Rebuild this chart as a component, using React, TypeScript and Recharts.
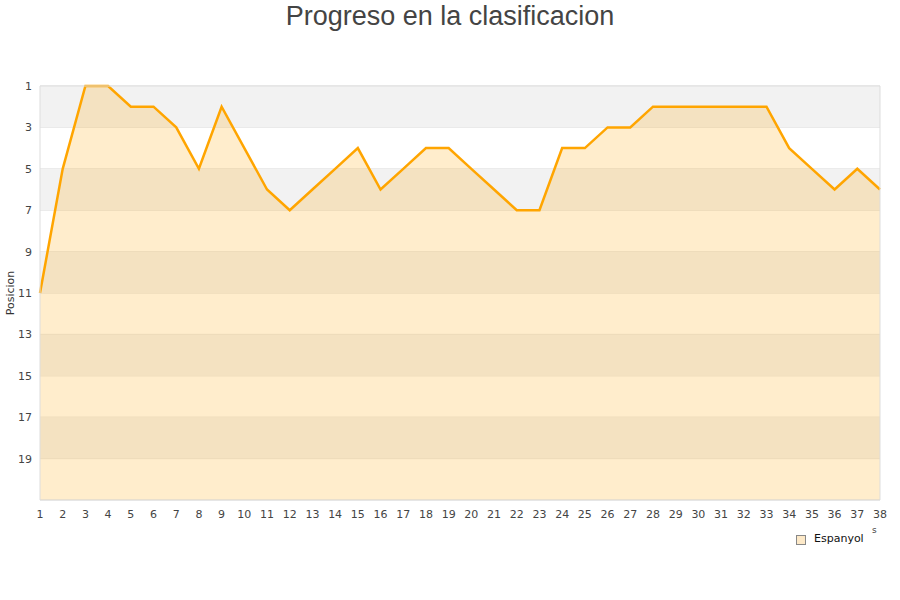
import React from "react";
import {
  ComposedChart,
  Area,
  XAxis,
  YAxis,
  CartesianGrid,
  ReferenceArea,
} from "recharts";

const rounds = [
  1, 2, 3, 4, 5, 6, 7, 8, 9, 10, 11, 12, 13, 14, 15, 16, 17, 18, 19, 20, 21,
  22, 23, 24, 25, 26, 27, 28, 29, 30, 31, 32, 33, 34, 35, 36, 37, 38,
];
const espanyol = [
  11, 5, 1, 1, 2, 2, 3, 5, 2, 4, 6, 7, 6, 5, 4, 6, 5, 4, 4, 5, 6, 7, 7, 4, 4,
  3, 3, 2, 2, 2, 2, 2, 2, 4, 5, 6, 5, 6,
];
const yTicks = [1, 3, 5, 7, 9, 11, 13, 15, 17, 19];
const bands: [number, number][] = [
  [1, 3],
  [5, 7],
  [9, 11],
  [13, 15],
  [17, 19],
];

const data = rounds.map((r, i) => ({ round: r, pos: espanyol[i] }));

const tickStyle = { fontFamily: "DejaVu Sans", fontSize: 11, fill: "#444" };

export default function App() {
  return (
    <div
      style={{
        position: "absolute",
        left: 0,
        top: 0,
        width: 900,
        height: 600,
        background: "#fff",
        fontFamily: "DejaVu Sans",
      }}
    >
      <div
        style={{
          position: "absolute",
          left: 0,
          top: 0,
          width: 900,
          textAlign: "center",
          fontFamily: "Liberation Sans",
          fontSize: 27,
          color: "#444",
          lineHeight: "32px",
        }}
      >
        Progreso en la clasificacion
      </div>
      <ComposedChart
        width={900}
        height={600}
        data={data}
        margin={{ top: 86, right: 20, bottom: 70, left: 0 }}
      >
        {bands.map(([a, b]) => (
          <ReferenceArea
            key={a}
            y1={a}
            y2={b}
            x1={1}
            x2={38}
            fill="#f2f2f2"
            fillOpacity={1}
            stroke="none"
            ifOverflow="hidden"
          />
        ))}
        <CartesianGrid vertical={false} stroke="#e0e0e0" />
        <XAxis
          dataKey="round"
          type="number"
          domain={[1, 38]}
          ticks={rounds}
          interval={0}
          tick={tickStyle}
          tickLine={false}
          axisLine={false}
          height={30}
          tickMargin={4}
        />
        <YAxis
          type="number"
          domain={[1, 21]}
          reversed
          ticks={yTicks}
          interval={0}
          tick={tickStyle}
          tickLine={false}
          axisLine={false}
          width={40}
          tickMargin={2}
        />
        <Area
          type="linear"
          dataKey="pos"
          baseValue={21}
          stroke="#ffa500"
          strokeWidth={2.5}
          fill="#ffa500"
          fillOpacity={0.2}
          dot={false}
          activeDot={false}
          isAnimationActive={false}
        />
        <ReferenceArea
          x1={1}
          x2={38}
          y1={1}
          y2={21}
          fill="none"
          stroke="#dddddd"
          strokeWidth={1}
        />
      </ComposedChart>
      <div
        style={{
          position: "absolute",
          left: 10,
          top: 293,
          transform: "translate(-50%, -50%) rotate(-90deg)",
          fontFamily: "DejaVu Sans",
          fontSize: 11,
          color: "#333",
          lineHeight: "13px",
          whiteSpace: "nowrap",
        }}
      >
        Posicion
      </div>
      <div
        style={{
          position: "absolute",
          left: 796,
          top: 535,
          width: 8,
          height: 8,
          background: "#fde9c8",
          border: "1px solid #888",
        }}
      />
      <div
        style={{
          position: "absolute",
          left: 814,
          top: 532,
          fontFamily: "DejaVu Sans",
          fontSize: 11,
          color: "#111",
          lineHeight: "14px",
        }}
      >
        Espanyol
      </div>
      <div
        style={{
          position: "absolute",
          left: 872,
          top: 524,
          fontFamily: "DejaVu Sans",
          fontSize: 9,
          color: "#444",
          lineHeight: "12px",
        }}
      >
        s
      </div>
    </div>
  );
}
